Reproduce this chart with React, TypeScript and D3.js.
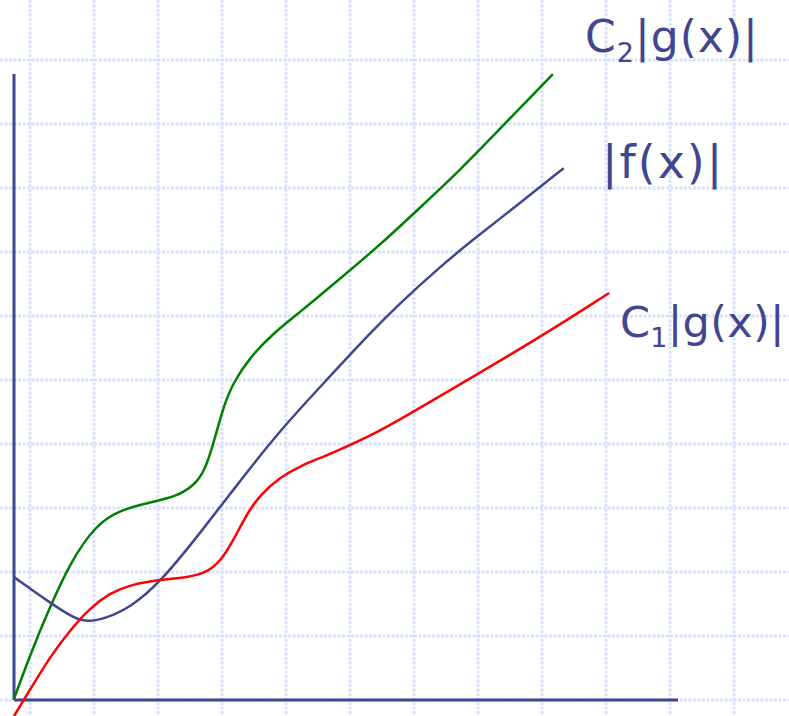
import React from "react";
import * as d3 from "d3";

// Curve data in grid units (one unit = one grid cell), origin at the axes' corner
const greenX = [0, 0.25, 0.56, 0.875, 1.27, 1.66, 2.125, 2.52, 2.83, 2.98, 3.11, 3.27, 3.42, 3.69, 4.05, 4.47, 5.09, 5.72, 6.34, 6.97, 7.59, 8.06, 8.42];
const greenY = [0.02, 0.7, 1.45, 2.14, 2.73, 2.97, 3.09, 3.17, 3.36, 3.59, 3.98, 4.58, 4.95, 5.36, 5.73, 6.06, 6.58, 7.11, 7.69, 8.28, 8.92, 9.41, 9.78];

const blueX = [0, 0.56, 0.95, 1.16, 1.42, 1.81, 2.28, 2.91, 3.53, 4.16, 4.94, 5.56, 6.03, 6.66, 7.13, 7.86, 8.59];
const blueY = [1.92, 1.52, 1.27, 1.22, 1.27, 1.44, 1.83, 2.61, 3.42, 4.22, 5.06, 5.73, 6.2, 6.77, 7.16, 7.73, 8.31];

const redX = [0, 0.25, 0.56, 0.875, 1.19, 1.5, 1.81, 2.28, 2.75, 3.02, 3.22, 3.42, 3.64, 3.84, 4.16, 4.47, 4.94, 5.72, 6.23, 7.17, 8.22, 9.3];
const redY = [-0.25, 0.16, 0.67, 1.09, 1.44, 1.67, 1.8, 1.88, 1.92, 2.0, 2.16, 2.48, 2.91, 3.2, 3.48, 3.66, 3.84, 4.2, 4.5, 5.05, 5.67, 6.36];

const gridX = [0.25, 1.25, 2.25, 3.25, 4.25, 5.25, 6.25, 7.25, 8.25, 9.25, 10.25, 11.25, 12.25];
const gridY = [0, 1, 2, 3, 4, 5, 6, 7, 8, 9, 10, 11];

const W = 789;
const H = 716;
const AXIS = "#40468f";
const GRID = "#dae2fb";

export default function App() {
  const x = d3.scaleLinear().domain([0, 1]).range([14, 78]);
  const y = d3.scaleLinear().domain([0, 1]).range([700, 636]);

  const line = d3
    .line<[number, number]>()
    .x((d) => x(d[0]))
    .y((d) => y(d[1]))
    .curve(d3.curveBasis);

  const zip = (a: number[], b: number[]) => a.map((v, i) => [v, b[i]] as [number, number]);

  const series = [
    { pts: zip(greenX, greenY), color: "#008000" },
    { pts: zip(blueX, blueY), color: AXIS },
    { pts: zip(redX, redY), color: "#ff0000" },
  ];

  const font = "'DejaVu Sans', 'Open Sans', sans-serif";

  return (
    <svg
      width={W}
      height={H}
      style={{ position: "absolute", left: 0, top: 0, background: "#fff" }}
    >
      <g>
        {gridX.map((g, i) => (
          <line
            key={"gx" + i}
            x1={x(g)}
            x2={x(g)}
            y1={0}
            y2={H}
            stroke={GRID}
            strokeWidth={3}
            strokeDasharray="3 1.5"
          />
        ))}
        {gridY.map((g, i) => (
          <line
            key={"gy" + i}
            x1={0}
            x2={W}
            y1={y(g)}
            y2={y(g)}
            stroke={GRID}
            strokeWidth={3}
            strokeDasharray="3 1.5"
          />
        ))}
      </g>
      <line x1={x(0)} x2={x(0)} y1={74} y2={y(0)} stroke={AXIS} strokeWidth={3} />
      <line x1={x(0)} x2={678} y1={y(0)} y2={y(0)} stroke={AXIS} strokeWidth={3} />
      {series.map((s, i) => (
        <path key={i} d={line(s.pts) || ""} fill="none" stroke={s.color} strokeWidth={2.5} />
      ))}
      <text x={585} y={52} fill={AXIS} fontFamily={font} fontSize={44} letterSpacing={1}>
        C<tspan fontSize={27} dy={10}>2</tspan>
        <tspan dy={-10}>|g(x)|</tspan>
      </text>
      <text x={602} y={178} fill={AXIS} fontFamily={font} fontSize={46} letterSpacing={2}>
        |f(x)|
      </text>
      <text x={620} y={337} fill={AXIS} fontFamily={font} fontSize={43} letterSpacing={0.3}>
        C<tspan fontSize={27} dy={10}>1</tspan>
        <tspan dy={-10}>|g(x)|</tspan>
      </text>
    </svg>
  );
}
